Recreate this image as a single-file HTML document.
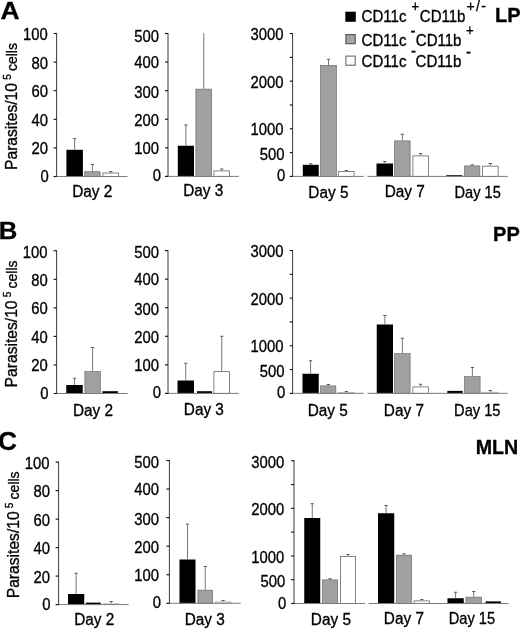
<!DOCTYPE html>
<html lang="en"><head><meta charset="utf-8"><title>Figure</title>
<style>
html,body{margin:0;padding:0;background:#fff;}
svg{display:block;font-family:'Liberation Sans', Arial, Helvetica, sans-serif;fill:#000;}
svg text{fill:#000;stroke:#000;stroke-width:0.32px;}
</style></head>
<body>
<svg width="520" height="629" viewBox="0 0 520 629">
<rect x="0" y="0" width="520" height="629" fill="#fff"/>
<rect x="66.40" y="149.80" width="16.50" height="26.70" fill="#000"/>
<line x1="74.65" y1="149.80" x2="74.65" y2="138.60" stroke="#606060" stroke-width="0.85"/>
<line x1="73.05" y1="138.60" x2="76.25" y2="138.60" stroke="#505050" stroke-width="0.95"/>
<rect x="84.70" y="171.70" width="15.40" height="4.80" fill="#a0a0a0" stroke="#6c6c6c" stroke-width="0.7"/>
<line x1="92.40" y1="171.30" x2="92.40" y2="164.50" stroke="#606060" stroke-width="0.85"/>
<line x1="90.80" y1="164.50" x2="94.00" y2="164.50" stroke="#505050" stroke-width="0.95"/>
<rect x="102.90" y="173.00" width="15.70" height="3.50" fill="#fff" stroke="#5c5c5c" stroke-width="0.75"/>
<line x1="110.75" y1="172.60" x2="110.75" y2="171.60" stroke="#606060" stroke-width="0.85"/>
<line x1="109.15" y1="171.60" x2="112.35" y2="171.60" stroke="#505050" stroke-width="0.95"/>
<line x1="56.60" y1="176.50" x2="127.50" y2="176.50" stroke="#7c7c7c" stroke-width="1"/>
<line x1="56.60" y1="33.00" x2="56.60" y2="177.00" stroke="#3a3a3a" stroke-width="1"/>
<line x1="53.60" y1="176.50" x2="56.60" y2="176.50" stroke="#111" stroke-width="1.15"/>
<text transform="translate(48.70,182.00) scale(0.91,1)" font-size="16.3" text-anchor="end" font-weight="normal" >0</text>
<line x1="53.60" y1="147.90" x2="56.60" y2="147.90" stroke="#111" stroke-width="1.15"/>
<text transform="translate(48.00,154.40) scale(0.91,1)" font-size="16.3" text-anchor="end" font-weight="normal" >20</text>
<line x1="53.60" y1="119.30" x2="56.60" y2="119.30" stroke="#111" stroke-width="1.15"/>
<text transform="translate(48.00,125.80) scale(0.91,1)" font-size="16.3" text-anchor="end" font-weight="normal" >40</text>
<line x1="53.60" y1="90.70" x2="56.60" y2="90.70" stroke="#111" stroke-width="1.15"/>
<text transform="translate(48.00,97.20) scale(0.91,1)" font-size="16.3" text-anchor="end" font-weight="normal" >60</text>
<line x1="53.60" y1="62.10" x2="56.60" y2="62.10" stroke="#111" stroke-width="1.15"/>
<text transform="translate(48.00,68.60) scale(0.91,1)" font-size="16.3" text-anchor="end" font-weight="normal" >80</text>
<line x1="53.60" y1="33.50" x2="56.60" y2="33.50" stroke="#111" stroke-width="1.15"/>
<text transform="translate(47.70,40.00) scale(0.91,1)" font-size="16.3" text-anchor="end" font-weight="normal" >100</text>
<text transform="translate(92.30,196.90) scale(0.96,1)" font-size="16" text-anchor="middle" font-weight="normal" >Day 2</text>
<rect x="177.80" y="145.75" width="16.20" height="30.65" fill="#000"/>
<line x1="185.90" y1="145.75" x2="185.90" y2="125.00" stroke="#606060" stroke-width="0.85"/>
<line x1="184.30" y1="125.00" x2="187.50" y2="125.00" stroke="#505050" stroke-width="0.95"/>
<rect x="195.90" y="89.15" width="15.70" height="87.25" fill="#a0a0a0" stroke="#6c6c6c" stroke-width="0.7"/>
<line x1="203.75" y1="88.75" x2="203.75" y2="33.00" stroke="#606060" stroke-width="0.85"/>
<rect x="213.90" y="170.90" width="15.70" height="5.50" fill="#fff" stroke="#5c5c5c" stroke-width="0.75"/>
<line x1="221.75" y1="170.50" x2="221.75" y2="169.00" stroke="#606060" stroke-width="0.85"/>
<line x1="220.15" y1="169.00" x2="223.35" y2="169.00" stroke="#505050" stroke-width="0.95"/>
<line x1="168.00" y1="176.40" x2="238.75" y2="176.40" stroke="#7c7c7c" stroke-width="1"/>
<line x1="168.00" y1="33.00" x2="168.00" y2="176.90" stroke="#3a3a3a" stroke-width="1"/>
<line x1="165.00" y1="176.40" x2="168.00" y2="176.40" stroke="#111" stroke-width="1.15"/>
<text transform="translate(160.95,181.40) scale(0.91,1)" font-size="16.3" text-anchor="end" font-weight="normal" >0</text>
<line x1="165.00" y1="147.82" x2="168.00" y2="147.82" stroke="#111" stroke-width="1.15"/>
<text transform="translate(159.05,154.22) scale(0.91,1)" font-size="16.3" text-anchor="end" font-weight="normal" >100</text>
<line x1="165.00" y1="119.24" x2="168.00" y2="119.24" stroke="#111" stroke-width="1.15"/>
<text transform="translate(159.05,125.84) scale(0.91,1)" font-size="16.3" text-anchor="end" font-weight="normal" >200</text>
<line x1="165.00" y1="90.66" x2="168.00" y2="90.66" stroke="#111" stroke-width="1.15"/>
<text transform="translate(159.05,97.56) scale(0.91,1)" font-size="16.3" text-anchor="end" font-weight="normal" >300</text>
<line x1="165.00" y1="62.08" x2="168.00" y2="62.08" stroke="#111" stroke-width="1.15"/>
<text transform="translate(159.05,68.08) scale(0.91,1)" font-size="16.3" text-anchor="end" font-weight="normal" >400</text>
<line x1="165.00" y1="33.50" x2="168.00" y2="33.50" stroke="#111" stroke-width="1.15"/>
<text transform="translate(159.05,41.50) scale(0.91,1)" font-size="16.3" text-anchor="end" font-weight="normal" >500</text>
<text transform="translate(203.20,196.00) scale(0.96,1)" font-size="16" text-anchor="middle" font-weight="normal" >Day 3</text>
<rect x="302.80" y="164.80" width="15.95" height="11.60" fill="#000"/>
<line x1="310.77" y1="164.80" x2="310.77" y2="163.70" stroke="#606060" stroke-width="0.85"/>
<line x1="309.17" y1="163.70" x2="312.38" y2="163.70" stroke="#505050" stroke-width="0.95"/>
<rect x="320.65" y="65.40" width="15.70" height="111.00" fill="#a0a0a0" stroke="#6c6c6c" stroke-width="0.7"/>
<line x1="328.50" y1="65.00" x2="328.50" y2="59.25" stroke="#606060" stroke-width="0.85"/>
<line x1="326.90" y1="59.25" x2="330.10" y2="59.25" stroke="#505050" stroke-width="0.95"/>
<rect x="338.65" y="171.50" width="15.45" height="4.90" fill="#fff" stroke="#5c5c5c" stroke-width="0.75"/>
<line x1="346.38" y1="171.10" x2="346.38" y2="170.50" stroke="#606060" stroke-width="0.85"/>
<line x1="344.77" y1="170.50" x2="347.98" y2="170.50" stroke="#505050" stroke-width="0.95"/>
<rect x="376.50" y="163.50" width="16.50" height="12.90" fill="#000"/>
<line x1="384.75" y1="163.50" x2="384.75" y2="161.50" stroke="#606060" stroke-width="0.85"/>
<line x1="383.15" y1="161.50" x2="386.35" y2="161.50" stroke="#505050" stroke-width="0.95"/>
<rect x="394.65" y="140.90" width="15.45" height="35.50" fill="#a0a0a0" stroke="#6c6c6c" stroke-width="0.7"/>
<line x1="402.38" y1="140.50" x2="402.38" y2="134.25" stroke="#606060" stroke-width="0.85"/>
<line x1="400.77" y1="134.25" x2="403.98" y2="134.25" stroke="#505050" stroke-width="0.95"/>
<rect x="412.90" y="155.90" width="15.45" height="20.50" fill="#fff" stroke="#5c5c5c" stroke-width="0.75"/>
<line x1="420.62" y1="155.50" x2="420.62" y2="153.50" stroke="#606060" stroke-width="0.85"/>
<line x1="419.02" y1="153.50" x2="422.23" y2="153.50" stroke="#505050" stroke-width="0.95"/>
<rect x="446.25" y="175.20" width="16.25" height="1.20" fill="#000"/>
<rect x="464.65" y="165.90" width="15.20" height="10.50" fill="#a0a0a0" stroke="#6c6c6c" stroke-width="0.7"/>
<line x1="472.25" y1="165.50" x2="472.25" y2="164.80" stroke="#606060" stroke-width="0.85"/>
<line x1="470.65" y1="164.80" x2="473.85" y2="164.80" stroke="#505050" stroke-width="0.95"/>
<rect x="482.65" y="166.15" width="15.45" height="10.25" fill="#fff" stroke="#5c5c5c" stroke-width="0.75"/>
<line x1="490.38" y1="165.75" x2="490.38" y2="163.50" stroke="#606060" stroke-width="0.85"/>
<line x1="488.77" y1="163.50" x2="491.98" y2="163.50" stroke="#505050" stroke-width="0.95"/>
<line x1="292.60" y1="176.40" x2="363.75" y2="176.40" stroke="#7c7c7c" stroke-width="1"/>
<line x1="367.50" y1="176.40" x2="507.70" y2="176.40" stroke="#7c7c7c" stroke-width="1"/>
<line x1="292.60" y1="33.05" x2="292.60" y2="176.90" stroke="#3a3a3a" stroke-width="1"/>
<line x1="289.80" y1="176.40" x2="292.60" y2="176.40" stroke="#111" stroke-width="1.15"/>
<text transform="translate(285.30,181.00) scale(0.91,1)" font-size="16.3" text-anchor="end" font-weight="normal" >0</text>
<line x1="289.80" y1="152.59" x2="292.60" y2="152.59" stroke="#111" stroke-width="1.15"/>
<text transform="translate(284.40,159.59) scale(0.91,1)" font-size="16.3" text-anchor="end" font-weight="normal" >500</text>
<line x1="289.80" y1="128.78" x2="292.60" y2="128.78" stroke="#111" stroke-width="1.15"/>
<text transform="translate(283.40,135.28) scale(0.91,1)" font-size="16.3" text-anchor="end" font-weight="normal" >1000</text>
<line x1="289.80" y1="104.97" x2="292.60" y2="104.97" stroke="#111" stroke-width="1.15"/>
<line x1="289.80" y1="81.17" x2="292.60" y2="81.17" stroke="#111" stroke-width="1.15"/>
<text transform="translate(283.40,87.67) scale(0.91,1)" font-size="16.3" text-anchor="end" font-weight="normal" >2000</text>
<line x1="289.80" y1="57.36" x2="292.60" y2="57.36" stroke="#111" stroke-width="1.15"/>
<line x1="289.80" y1="33.55" x2="292.60" y2="33.55" stroke="#111" stroke-width="1.15"/>
<text transform="translate(283.40,40.15) scale(0.91,1)" font-size="16.3" text-anchor="end" font-weight="normal" >3000</text>
<text transform="translate(328.40,197.90) scale(0.96,1)" font-size="16" text-anchor="middle" font-weight="normal" >Day 5</text>
<text transform="translate(404.70,197.40) scale(0.96,1)" font-size="16" text-anchor="middle" font-weight="normal" >Day 7</text>
<text transform="translate(477.70,197.90) scale(0.915,1)" font-size="16" text-anchor="middle" font-weight="normal" >Day 15</text>
<rect x="66.25" y="385.00" width="16.50" height="8.50" fill="#000"/>
<line x1="74.50" y1="385.00" x2="74.50" y2="378.25" stroke="#606060" stroke-width="0.85"/>
<line x1="72.90" y1="378.25" x2="76.10" y2="378.25" stroke="#505050" stroke-width="0.95"/>
<rect x="84.90" y="371.65" width="15.45" height="21.85" fill="#a0a0a0" stroke="#6c6c6c" stroke-width="0.7"/>
<line x1="92.62" y1="371.25" x2="92.62" y2="347.50" stroke="#606060" stroke-width="0.85"/>
<line x1="91.03" y1="347.50" x2="94.22" y2="347.50" stroke="#505050" stroke-width="0.95"/>
<rect x="102.40" y="391.20" width="15.50" height="2.30" fill="#000"/>
<line x1="56.60" y1="393.50" x2="127.50" y2="393.50" stroke="#7c7c7c" stroke-width="1"/>
<line x1="56.60" y1="250.25" x2="56.60" y2="394.00" stroke="#3a3a3a" stroke-width="1"/>
<line x1="53.60" y1="393.50" x2="56.60" y2="393.50" stroke="#111" stroke-width="1.15"/>
<text transform="translate(48.40,399.00) scale(0.91,1)" font-size="16.3" text-anchor="end" font-weight="normal" >0</text>
<line x1="53.60" y1="364.95" x2="56.60" y2="364.95" stroke="#111" stroke-width="1.15"/>
<text transform="translate(47.70,371.45) scale(0.91,1)" font-size="16.3" text-anchor="end" font-weight="normal" >20</text>
<line x1="53.60" y1="336.40" x2="56.60" y2="336.40" stroke="#111" stroke-width="1.15"/>
<text transform="translate(47.70,342.90) scale(0.91,1)" font-size="16.3" text-anchor="end" font-weight="normal" >40</text>
<line x1="53.60" y1="307.85" x2="56.60" y2="307.85" stroke="#111" stroke-width="1.15"/>
<text transform="translate(47.70,314.35) scale(0.91,1)" font-size="16.3" text-anchor="end" font-weight="normal" >60</text>
<line x1="53.60" y1="279.30" x2="56.60" y2="279.30" stroke="#111" stroke-width="1.15"/>
<text transform="translate(47.70,285.60) scale(0.91,1)" font-size="16.3" text-anchor="end" font-weight="normal" >80</text>
<line x1="53.60" y1="250.75" x2="56.60" y2="250.75" stroke="#111" stroke-width="1.15"/>
<text transform="translate(47.40,258.25) scale(0.91,1)" font-size="16.3" text-anchor="end" font-weight="normal" >100</text>
<text transform="translate(93.00,415.70) scale(0.96,1)" font-size="16" text-anchor="middle" font-weight="normal" >Day 2</text>
<rect x="177.50" y="380.50" width="16.50" height="12.90" fill="#000"/>
<line x1="185.75" y1="380.50" x2="185.75" y2="363.25" stroke="#606060" stroke-width="0.85"/>
<line x1="184.15" y1="363.25" x2="187.35" y2="363.25" stroke="#505050" stroke-width="0.95"/>
<rect x="197.00" y="391.20" width="15.00" height="2.20" fill="#000"/>
<rect x="213.90" y="371.65" width="15.70" height="21.75" fill="#fff" stroke="#5c5c5c" stroke-width="0.75"/>
<line x1="221.75" y1="371.25" x2="221.75" y2="336.25" stroke="#606060" stroke-width="0.85"/>
<line x1="220.15" y1="336.25" x2="223.35" y2="336.25" stroke="#505050" stroke-width="0.95"/>
<line x1="168.00" y1="393.40" x2="238.75" y2="393.40" stroke="#7c7c7c" stroke-width="1"/>
<line x1="168.00" y1="250.10" x2="168.00" y2="393.90" stroke="#3a3a3a" stroke-width="1"/>
<line x1="165.00" y1="393.40" x2="168.00" y2="393.40" stroke="#111" stroke-width="1.15"/>
<text transform="translate(160.95,398.40) scale(0.91,1)" font-size="16.3" text-anchor="end" font-weight="normal" >0</text>
<line x1="165.00" y1="364.84" x2="168.00" y2="364.84" stroke="#111" stroke-width="1.15"/>
<text transform="translate(159.05,371.24) scale(0.91,1)" font-size="16.3" text-anchor="end" font-weight="normal" >100</text>
<line x1="165.00" y1="336.28" x2="168.00" y2="336.28" stroke="#111" stroke-width="1.15"/>
<text transform="translate(159.05,342.88) scale(0.91,1)" font-size="16.3" text-anchor="end" font-weight="normal" >200</text>
<line x1="165.00" y1="307.72" x2="168.00" y2="307.72" stroke="#111" stroke-width="1.15"/>
<text transform="translate(159.05,314.62) scale(0.91,1)" font-size="16.3" text-anchor="end" font-weight="normal" >300</text>
<line x1="165.00" y1="279.16" x2="168.00" y2="279.16" stroke="#111" stroke-width="1.15"/>
<text transform="translate(159.05,285.16) scale(0.91,1)" font-size="16.3" text-anchor="end" font-weight="normal" >400</text>
<line x1="165.00" y1="250.60" x2="168.00" y2="250.60" stroke="#111" stroke-width="1.15"/>
<text transform="translate(159.05,258.40) scale(0.91,1)" font-size="16.3" text-anchor="end" font-weight="normal" >500</text>
<text transform="translate(203.85,414.60) scale(0.96,1)" font-size="16" text-anchor="middle" font-weight="normal" >Day 3</text>
<rect x="302.50" y="373.75" width="16.25" height="19.60" fill="#000"/>
<line x1="310.62" y1="373.75" x2="310.62" y2="360.75" stroke="#606060" stroke-width="0.85"/>
<line x1="309.02" y1="360.75" x2="312.23" y2="360.75" stroke="#505050" stroke-width="0.95"/>
<rect x="320.65" y="385.90" width="15.20" height="7.45" fill="#a0a0a0" stroke="#6c6c6c" stroke-width="0.7"/>
<line x1="328.25" y1="385.50" x2="328.25" y2="384.50" stroke="#606060" stroke-width="0.85"/>
<line x1="326.65" y1="384.50" x2="329.85" y2="384.50" stroke="#505050" stroke-width="0.95"/>
<rect x="338.65" y="392.65" width="15.45" height="0.70" fill="#e4e4e4" stroke="#9a9a9a" stroke-width="0.6"/>
<line x1="346.38" y1="392.25" x2="346.38" y2="391.50" stroke="#606060" stroke-width="0.85"/>
<line x1="344.77" y1="391.50" x2="347.98" y2="391.50" stroke="#505050" stroke-width="0.95"/>
<rect x="376.75" y="324.50" width="16.25" height="68.85" fill="#000"/>
<line x1="384.88" y1="324.50" x2="384.88" y2="315.50" stroke="#606060" stroke-width="0.85"/>
<line x1="383.27" y1="315.50" x2="386.48" y2="315.50" stroke="#505050" stroke-width="0.95"/>
<rect x="394.65" y="353.65" width="15.45" height="39.70" fill="#a0a0a0" stroke="#6c6c6c" stroke-width="0.7"/>
<line x1="402.38" y1="353.25" x2="402.38" y2="338.25" stroke="#606060" stroke-width="0.85"/>
<line x1="400.77" y1="338.25" x2="403.98" y2="338.25" stroke="#505050" stroke-width="0.95"/>
<rect x="412.90" y="386.90" width="15.45" height="6.45" fill="#fff" stroke="#5c5c5c" stroke-width="0.75"/>
<line x1="420.62" y1="386.50" x2="420.62" y2="384.25" stroke="#606060" stroke-width="0.85"/>
<line x1="419.02" y1="384.25" x2="422.23" y2="384.25" stroke="#505050" stroke-width="0.95"/>
<rect x="447.30" y="390.90" width="15.40" height="2.45" fill="#000"/>
<rect x="464.65" y="376.65" width="15.45" height="16.70" fill="#a0a0a0" stroke="#6c6c6c" stroke-width="0.7"/>
<line x1="472.38" y1="376.25" x2="472.38" y2="367.50" stroke="#606060" stroke-width="0.85"/>
<line x1="470.77" y1="367.50" x2="473.98" y2="367.50" stroke="#505050" stroke-width="0.95"/>
<rect x="482.65" y="392.15" width="15.45" height="1.20" fill="#e4e4e4" stroke="#9a9a9a" stroke-width="0.6"/>
<line x1="490.38" y1="391.75" x2="490.38" y2="390.50" stroke="#606060" stroke-width="0.85"/>
<line x1="488.77" y1="390.50" x2="491.98" y2="390.50" stroke="#505050" stroke-width="0.95"/>
<line x1="292.60" y1="393.35" x2="363.75" y2="393.35" stroke="#7c7c7c" stroke-width="1"/>
<line x1="367.50" y1="393.35" x2="507.70" y2="393.35" stroke="#7c7c7c" stroke-width="1"/>
<line x1="292.60" y1="250.05" x2="292.60" y2="393.85" stroke="#3a3a3a" stroke-width="1"/>
<line x1="289.80" y1="393.35" x2="292.60" y2="393.35" stroke="#111" stroke-width="1.15"/>
<text transform="translate(285.30,397.95) scale(0.91,1)" font-size="16.3" text-anchor="end" font-weight="normal" >0</text>
<line x1="289.80" y1="369.55" x2="292.60" y2="369.55" stroke="#111" stroke-width="1.15"/>
<text transform="translate(284.40,376.55) scale(0.91,1)" font-size="16.3" text-anchor="end" font-weight="normal" >500</text>
<line x1="289.80" y1="345.75" x2="292.60" y2="345.75" stroke="#111" stroke-width="1.15"/>
<text transform="translate(283.40,352.25) scale(0.91,1)" font-size="16.3" text-anchor="end" font-weight="normal" >1000</text>
<line x1="289.80" y1="321.95" x2="292.60" y2="321.95" stroke="#111" stroke-width="1.15"/>
<line x1="289.80" y1="298.15" x2="292.60" y2="298.15" stroke="#111" stroke-width="1.15"/>
<text transform="translate(283.40,304.65) scale(0.91,1)" font-size="16.3" text-anchor="end" font-weight="normal" >2000</text>
<line x1="289.80" y1="274.35" x2="292.60" y2="274.35" stroke="#111" stroke-width="1.15"/>
<line x1="289.80" y1="250.55" x2="292.60" y2="250.55" stroke="#111" stroke-width="1.15"/>
<text transform="translate(283.40,257.15) scale(0.91,1)" font-size="16.3" text-anchor="end" font-weight="normal" >3000</text>
<text transform="translate(327.70,415.70) scale(0.96,1)" font-size="16" text-anchor="middle" font-weight="normal" >Day 5</text>
<text transform="translate(403.90,415.90) scale(0.96,1)" font-size="16" text-anchor="middle" font-weight="normal" >Day 7</text>
<text transform="translate(477.30,415.90) scale(0.915,1)" font-size="16" text-anchor="middle" font-weight="normal" >Day 15</text>
<rect x="68.00" y="594.00" width="16.25" height="10.60" fill="#000"/>
<line x1="76.12" y1="594.00" x2="76.12" y2="573.25" stroke="#606060" stroke-width="0.85"/>
<line x1="74.53" y1="573.25" x2="77.72" y2="573.25" stroke="#505050" stroke-width="0.95"/>
<rect x="85.75" y="602.60" width="15.00" height="2.00" fill="#000"/>
<rect x="103.40" y="603.90" width="15.70" height="0.70" fill="#e4e4e4" stroke="#9a9a9a" stroke-width="0.6"/>
<line x1="111.25" y1="603.50" x2="111.25" y2="601.50" stroke="#606060" stroke-width="0.85"/>
<line x1="109.65" y1="601.50" x2="112.85" y2="601.50" stroke="#505050" stroke-width="0.95"/>
<line x1="58.60" y1="604.60" x2="128.75" y2="604.60" stroke="#7c7c7c" stroke-width="1"/>
<line x1="58.60" y1="461.60" x2="58.60" y2="605.10" stroke="#3a3a3a" stroke-width="1"/>
<line x1="55.60" y1="604.60" x2="58.60" y2="604.60" stroke="#111" stroke-width="1.15"/>
<text transform="translate(50.60,610.10) scale(0.91,1)" font-size="16.3" text-anchor="end" font-weight="normal" >0</text>
<line x1="55.60" y1="576.10" x2="58.60" y2="576.10" stroke="#111" stroke-width="1.15"/>
<text transform="translate(49.90,582.60) scale(0.91,1)" font-size="16.3" text-anchor="end" font-weight="normal" >20</text>
<line x1="55.60" y1="547.60" x2="58.60" y2="547.60" stroke="#111" stroke-width="1.15"/>
<text transform="translate(49.90,554.10) scale(0.91,1)" font-size="16.3" text-anchor="end" font-weight="normal" >40</text>
<line x1="55.60" y1="519.10" x2="58.60" y2="519.10" stroke="#111" stroke-width="1.15"/>
<text transform="translate(49.90,525.60) scale(0.91,1)" font-size="16.3" text-anchor="end" font-weight="normal" >60</text>
<line x1="55.60" y1="490.60" x2="58.60" y2="490.60" stroke="#111" stroke-width="1.15"/>
<text transform="translate(49.90,497.10) scale(0.91,1)" font-size="16.3" text-anchor="end" font-weight="normal" >80</text>
<line x1="55.60" y1="462.10" x2="58.60" y2="462.10" stroke="#111" stroke-width="1.15"/>
<text transform="translate(49.60,468.60) scale(0.91,1)" font-size="16.3" text-anchor="end" font-weight="normal" >100</text>
<text transform="translate(94.30,625.00) scale(0.96,1)" font-size="16" text-anchor="middle" font-weight="normal" >Day 2</text>
<rect x="179.50" y="559.50" width="16.00" height="43.80" fill="#000"/>
<line x1="187.50" y1="559.50" x2="187.50" y2="524.10" stroke="#606060" stroke-width="0.85"/>
<line x1="185.90" y1="524.10" x2="189.10" y2="524.10" stroke="#505050" stroke-width="0.95"/>
<rect x="197.90" y="590.15" width="14.70" height="13.15" fill="#a0a0a0" stroke="#6c6c6c" stroke-width="0.7"/>
<line x1="205.25" y1="589.75" x2="205.25" y2="566.50" stroke="#606060" stroke-width="0.85"/>
<line x1="203.65" y1="566.50" x2="206.85" y2="566.50" stroke="#505050" stroke-width="0.95"/>
<rect x="215.40" y="601.90" width="15.45" height="1.40" fill="#e4e4e4" stroke="#9a9a9a" stroke-width="0.6"/>
<line x1="223.12" y1="601.50" x2="223.12" y2="600.50" stroke="#606060" stroke-width="0.85"/>
<line x1="221.53" y1="600.50" x2="224.72" y2="600.50" stroke="#505050" stroke-width="0.95"/>
<line x1="169.40" y1="603.30" x2="240.75" y2="603.30" stroke="#7c7c7c" stroke-width="1"/>
<line x1="169.40" y1="460.00" x2="169.40" y2="603.80" stroke="#3a3a3a" stroke-width="1"/>
<line x1="166.40" y1="603.30" x2="169.40" y2="603.30" stroke="#111" stroke-width="1.15"/>
<text transform="translate(160.95,608.30) scale(0.91,1)" font-size="16.3" text-anchor="end" font-weight="normal" >0</text>
<line x1="166.40" y1="574.74" x2="169.40" y2="574.74" stroke="#111" stroke-width="1.15"/>
<text transform="translate(159.05,581.14) scale(0.91,1)" font-size="16.3" text-anchor="end" font-weight="normal" >100</text>
<line x1="166.40" y1="546.18" x2="169.40" y2="546.18" stroke="#111" stroke-width="1.15"/>
<text transform="translate(159.05,552.78) scale(0.91,1)" font-size="16.3" text-anchor="end" font-weight="normal" >200</text>
<line x1="166.40" y1="517.62" x2="169.40" y2="517.62" stroke="#111" stroke-width="1.15"/>
<text transform="translate(159.05,524.52) scale(0.91,1)" font-size="16.3" text-anchor="end" font-weight="normal" >300</text>
<line x1="166.40" y1="489.06" x2="169.40" y2="489.06" stroke="#111" stroke-width="1.15"/>
<text transform="translate(159.05,495.06) scale(0.91,1)" font-size="16.3" text-anchor="end" font-weight="normal" >400</text>
<line x1="166.40" y1="460.50" x2="169.40" y2="460.50" stroke="#111" stroke-width="1.15"/>
<text transform="translate(159.05,467.90) scale(0.91,1)" font-size="16.3" text-anchor="end" font-weight="normal" >500</text>
<text transform="translate(204.80,625.00) scale(0.96,1)" font-size="16" text-anchor="middle" font-weight="normal" >Day 3</text>
<rect x="304.25" y="518.00" width="16.00" height="85.50" fill="#000"/>
<line x1="312.25" y1="518.00" x2="312.25" y2="503.75" stroke="#606060" stroke-width="0.85"/>
<line x1="310.65" y1="503.75" x2="313.85" y2="503.75" stroke="#505050" stroke-width="0.95"/>
<rect x="322.40" y="579.90" width="15.20" height="23.60" fill="#a0a0a0" stroke="#6c6c6c" stroke-width="0.7"/>
<line x1="330.00" y1="579.50" x2="330.00" y2="578.70" stroke="#606060" stroke-width="0.85"/>
<line x1="328.40" y1="578.70" x2="331.60" y2="578.70" stroke="#505050" stroke-width="0.95"/>
<rect x="340.40" y="556.40" width="15.20" height="47.10" fill="#fff" stroke="#5c5c5c" stroke-width="0.75"/>
<line x1="348.00" y1="556.00" x2="348.00" y2="554.50" stroke="#606060" stroke-width="0.85"/>
<line x1="346.40" y1="554.50" x2="349.60" y2="554.50" stroke="#505050" stroke-width="0.95"/>
<rect x="378.00" y="513.25" width="16.25" height="90.25" fill="#000"/>
<line x1="386.12" y1="513.25" x2="386.12" y2="505.50" stroke="#606060" stroke-width="0.85"/>
<line x1="384.52" y1="505.50" x2="387.73" y2="505.50" stroke="#505050" stroke-width="0.95"/>
<rect x="396.40" y="555.15" width="15.20" height="48.35" fill="#a0a0a0" stroke="#6c6c6c" stroke-width="0.7"/>
<line x1="404.00" y1="554.75" x2="404.00" y2="553.80" stroke="#606060" stroke-width="0.85"/>
<line x1="402.40" y1="553.80" x2="405.60" y2="553.80" stroke="#505050" stroke-width="0.95"/>
<rect x="414.15" y="600.90" width="15.45" height="2.60" fill="#fff" stroke="#5c5c5c" stroke-width="0.75"/>
<line x1="421.88" y1="600.50" x2="421.88" y2="599.50" stroke="#606060" stroke-width="0.85"/>
<line x1="420.27" y1="599.50" x2="423.48" y2="599.50" stroke="#505050" stroke-width="0.95"/>
<rect x="447.50" y="598.25" width="16.25" height="5.25" fill="#000"/>
<line x1="455.62" y1="598.25" x2="455.62" y2="592.25" stroke="#606060" stroke-width="0.85"/>
<line x1="454.02" y1="592.25" x2="457.23" y2="592.25" stroke="#505050" stroke-width="0.95"/>
<rect x="465.90" y="597.15" width="15.70" height="6.35" fill="#a0a0a0" stroke="#6c6c6c" stroke-width="0.7"/>
<line x1="473.75" y1="596.75" x2="473.75" y2="591.50" stroke="#606060" stroke-width="0.85"/>
<line x1="472.15" y1="591.50" x2="475.35" y2="591.50" stroke="#505050" stroke-width="0.95"/>
<rect x="485.50" y="601.40" width="15.50" height="2.10" fill="#000"/>
<line x1="294.00" y1="603.50" x2="365.00" y2="603.50" stroke="#7c7c7c" stroke-width="1"/>
<line x1="368.75" y1="603.50" x2="508.75" y2="603.50" stroke="#7c7c7c" stroke-width="1"/>
<line x1="294.00" y1="460.25" x2="294.00" y2="604.00" stroke="#3a3a3a" stroke-width="1"/>
<line x1="291.20" y1="603.50" x2="294.00" y2="603.50" stroke="#111" stroke-width="1.15"/>
<text transform="translate(286.20,608.70) scale(0.91,1)" font-size="16.3" text-anchor="end" font-weight="normal" >0</text>
<line x1="291.20" y1="579.71" x2="294.00" y2="579.71" stroke="#111" stroke-width="1.15"/>
<text transform="translate(285.30,587.31) scale(0.91,1)" font-size="16.3" text-anchor="end" font-weight="normal" >500</text>
<line x1="291.20" y1="555.92" x2="294.00" y2="555.92" stroke="#111" stroke-width="1.15"/>
<text transform="translate(284.30,563.02) scale(0.91,1)" font-size="16.3" text-anchor="end" font-weight="normal" >1000</text>
<line x1="291.20" y1="532.12" x2="294.00" y2="532.12" stroke="#111" stroke-width="1.15"/>
<line x1="291.20" y1="508.33" x2="294.00" y2="508.33" stroke="#111" stroke-width="1.15"/>
<text transform="translate(284.30,515.43) scale(0.91,1)" font-size="16.3" text-anchor="end" font-weight="normal" >2000</text>
<line x1="291.20" y1="484.54" x2="294.00" y2="484.54" stroke="#111" stroke-width="1.15"/>
<line x1="291.20" y1="460.75" x2="294.00" y2="460.75" stroke="#111" stroke-width="1.15"/>
<text transform="translate(284.30,467.95) scale(0.91,1)" font-size="16.3" text-anchor="end" font-weight="normal" >3000</text>
<text transform="translate(330.90,624.70) scale(0.96,1)" font-size="16" text-anchor="middle" font-weight="normal" >Day 5</text>
<text transform="translate(403.90,624.40) scale(0.96,1)" font-size="16" text-anchor="middle" font-weight="normal" >Day 7</text>
<text transform="translate(471.90,624.40) scale(0.915,1)" font-size="16" text-anchor="middle" font-weight="normal" >Day 15</text>
<text transform="translate(16.90,170.00) rotate(-90) scale(0.91,1)" font-size="17.2">Parasites/10<tspan dy="-6" font-size="11" dx="3.5">5</tspan><tspan dy="6" dx="-0.8" font-size="15.4"> cells</tspan></text>
<text transform="translate(16.90,387.40) rotate(-90) scale(0.91,1)" font-size="17.2">Parasites/10<tspan dy="-6" font-size="11" dx="3.5">5</tspan><tspan dy="6" dx="-0.8" font-size="15.4"> cells</tspan></text>
<text transform="translate(18.80,598.30) rotate(-90) scale(0.91,1)" font-size="17.2">Parasites/10<tspan dy="-6" font-size="11" dx="3.5">5</tspan><tspan dy="6" dx="-0.8" font-size="15.4"> cells</tspan></text>
<text transform="translate(0.60,19.30) scale(1.1,1)" font-size="24" text-anchor="start" font-weight="bold" >A</text>
<text transform="translate(-1.30,238.90) scale(1.05,1)" font-size="24.5" text-anchor="start" font-weight="bold" >B</text>
<text transform="translate(-1.90,449.70) scale(1.05,1)" font-size="25" text-anchor="start" font-weight="bold" >C</text>
<text transform="translate(520.60,22.30) scale(1.0,1)" font-size="20" text-anchor="end" font-weight="bold" >LP</text>
<text transform="translate(519.80,240.60) scale(1.0,1)" font-size="20" text-anchor="end" font-weight="bold" >PP</text>
<text transform="translate(518.20,453.80) scale(1.0,1)" font-size="19.6" text-anchor="end" font-weight="bold" >MLN</text>
<rect x="345.3" y="11.7" width="10.5" height="10.1" fill="#000"/>
<rect x="345.9" y="34.6" width="9.3" height="9.1" fill="#a4a4a4" stroke="#5a5a5a" stroke-width="1.2"/>
<rect x="345.9" y="56.1" width="9.3" height="9.1" fill="#fff" stroke="#6a6a6a" stroke-width="1.1"/>
<text transform="translate(361.6,21.9) scale(0.94,1)" font-size="16"><tspan x="0">CD11c</tspan><tspan x="52.98" dy="-10.6" font-size="14">+</tspan><tspan x="61.91" dy="10.6">CD11b</tspan><tspan x="111.70" dy="-10.8" font-size="15" letter-spacing="1.3">+/-</tspan></text>
<text transform="translate(361.6,45.6) scale(0.94,1)" font-size="16"><tspan x="0">CD11c</tspan><tspan x="52.13" dy="-9.9" font-size="16">-</tspan><tspan x="57.66" dy="9.9">CD11b</tspan><tspan x="110.96" dy="-10.4" font-size="14" letter-spacing="0">+</tspan></text>
<text transform="translate(361.6,66.7) scale(0.94,1)" font-size="16"><tspan x="0">CD11c</tspan><tspan x="52.45" dy="-10.6" font-size="16">-</tspan><tspan x="57.45" dy="10.6">CD11b</tspan><tspan x="110.96" dy="-10.2" font-size="16" letter-spacing="0">-</tspan></text>
</svg>
</body></html>
